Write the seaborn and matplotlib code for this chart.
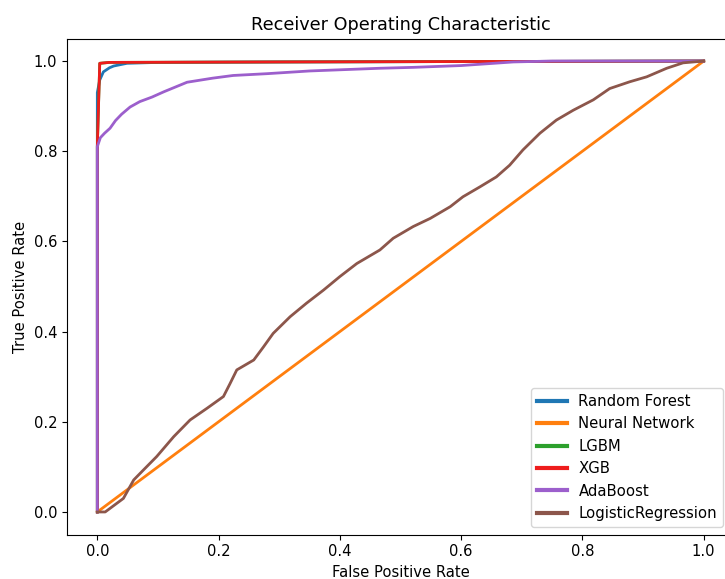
import matplotlib
matplotlib.use("Agg")
import matplotlib.pyplot as plt
import seaborn as sns
import pandas as pd

# ---- data ----
rf_fpr = [0.0, 0.0, 0.004, 0.01, 0.02, 0.027, 0.049, 0.1, 0.3, 1.0]
rf_tpr = [0.0, 0.93, 0.958, 0.976, 0.985, 0.989, 0.995, 0.997, 0.998, 1.0]

nn_fpr = [0.0, 1.0]
nn_tpr = [0.0, 1.0]

lgbm_fpr = [0.0, 0.0, 0.004, 0.02, 0.3, 1.0]
lgbm_tpr = [0.0, 0.81, 0.995, 0.997, 0.998, 1.0]

xgb_fpr = [0.0, 0.0, 0.004, 0.02, 0.3, 1.0]
xgb_tpr = [0.0, 0.81, 0.995, 0.997, 0.998, 1.0]

ada_fpr = [0.0, 0.0, 0.005, 0.012, 0.021, 0.03, 0.04, 0.054, 0.07, 0.09, 0.11, 0.148,
           0.19, 0.224, 0.28, 0.35, 0.466, 0.521, 0.6, 0.686, 0.75, 1.0]
ada_tpr = [0.0, 0.81, 0.83, 0.84, 0.851, 0.868, 0.882, 0.898, 0.91, 0.92, 0.932, 0.953,
           0.962, 0.968, 0.972, 0.978, 0.984, 0.986, 0.99, 0.998, 1.0, 1.0]

lr_fpr = [0.0, 0.013, 0.043, 0.06, 0.076, 0.098, 0.126, 0.153, 0.181, 0.208, 0.219, 0.23,
          0.258, 0.274, 0.29, 0.318, 0.345, 0.373, 0.40, 0.428, 0.466, 0.488, 0.521,
          0.549, 0.582, 0.603, 0.631, 0.658, 0.68, 0.702, 0.73, 0.757, 0.785, 0.818,
          0.845, 0.878, 0.906, 0.939, 0.966, 1.0]
lr_tpr = [0.0, 0.0, 0.03, 0.071, 0.093, 0.123, 0.167, 0.204, 0.23, 0.256, 0.285, 0.315,
          0.337, 0.366, 0.396, 0.433, 0.463, 0.492, 0.522, 0.551, 0.581, 0.607, 0.633,
          0.651, 0.677, 0.699, 0.721, 0.743, 0.769, 0.803, 0.84, 0.869, 0.891, 0.914,
          0.939, 0.954, 0.965, 0.984, 0.996, 1.0]

models = ["Random Forest", "Neural Network", "LGBM", "XGB", "AdaBoost", "LogisticRegression"]
fprs = [rf_fpr, nn_fpr, lgbm_fpr, xgb_fpr, ada_fpr, lr_fpr]
tprs = [rf_tpr, nn_tpr, lgbm_tpr, xgb_tpr, ada_tpr, lr_tpr]
colors = ["#1f77b4", "#ff7f0e", "#2ca02c", "#ee1c1c", "#9c5fcc", "#8c564b"]

fig = plt.figure(figsize=(7.25, 5.79), dpi=100)
ax = fig.add_axes([67 / 725, 1 - 534.5 / 579, 667 / 725, 496 / 579])

for name, fx, ty, c in zip(models, fprs, tprs, colors):
    df = pd.DataFrame({"fpr": fx, "tpr": ty})
    sns.lineplot(data=df, x="fpr", y="tpr", sort=False, estimator=None,
                 color=c, linewidth=2.0, label=name, ax=ax)

ax.set_xlim(-0.05, 1.05)
ax.set_ylim(-0.05, 1.05)
ax.set_xticks([0.0, 0.2, 0.4, 0.6, 0.8, 1.0])
ax.set_yticks([0.0, 0.2, 0.4, 0.6, 0.8, 1.0])
ax.set_title("Receiver Operating Characteristic", fontsize=12.7)
ax.set_xlabel("False Positive Rate", fontsize=10.6)
ax.set_ylabel("True Positive Rate", fontsize=10.6)
ax.tick_params(labelsize=10.6)
leg = ax.legend(loc="lower right", bbox_to_anchor=(723 / 725, 1 - 527 / 579),
                bbox_transform=fig.transFigure, fontsize=10.7, frameon=True,
                borderaxespad=0.0)
for line in leg.get_lines():
    line.set_linewidth(3)

fig.savefig("out.png", dpi=100)
